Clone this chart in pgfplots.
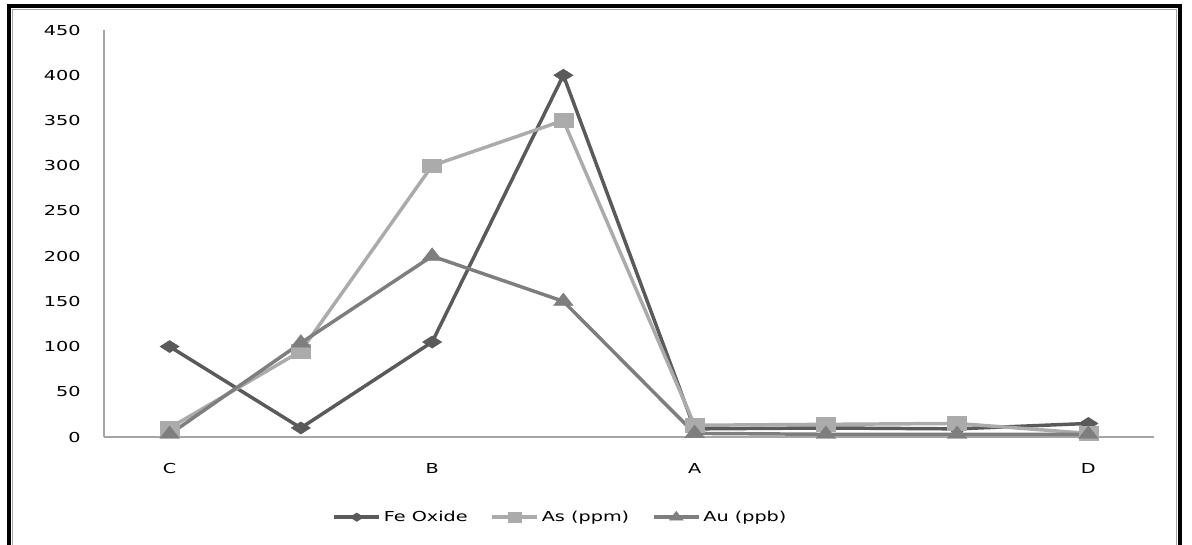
\documentclass[border=0pt]{standalone}
\usepackage{pgfplots}
\pgfplotsset{compat=1.18}
\usepackage{fontspec}
\setmainfont[FakeStretch=1.4]{DejaVu Sans}
\definecolor{feC}{HTML}{5A5A5A}
\definecolor{asC}{HTML}{ABABAB}
\definecolor{auC}{HTML}{7E7E7E}
\begin{document}
\begin{tikzpicture}
\useasboundingbox (0pt,0pt) rectangle (894pt,-408pt);
\begin{scope}
\clip (0pt,0pt) rectangle (894pt,-408pt);
\draw[black,line width=2.4pt] (6.75pt,-4.5pt) rectangle (885pt,-420pt);
\draw[gray!70,line width=1pt] (9.4pt,-7.1pt) rectangle (882.4pt,-420pt);
\end{scope}
\begin{axis}[
  at={(78pt,-327.75pt)}, anchor=south west,
  scale only axis, width=787.5pt, height=305.25pt,
  xmin=-0.5, xmax=7.5, ymin=0, ymax=450,
  axis lines*=left,
  axis line style={gray!70, line width=0.8pt, -},
  xtick={0,...,7}, xticklabels={C,,B,,A,,,D},
  ytick={0,50,...,450},
  major tick length=0pt,
  xticklabel style={yshift=-16pt},
  yticklabel style={xshift=-14pt},
  /pgf/number format/assume math mode=true,
  tick label style={font=\fontsize{10.3}{12}\selectfont},
  legend style={at={(0.435,-0.197)}, anchor=center, draw=none, legend columns=3,
    font=\fontsize{10.3}{12}\selectfont, /tikz/every even column/.append style={column sep=15pt}},
  legend image code/.code={\draw[#1] (0pt,0pt) -- (34pt,0pt); \draw[#1,mark repeat=2,mark phase=2,every mark/.append style={scale=0.7}] plot coordinates {(0pt,0pt)(17pt,0pt)(34pt,0pt)};},
  clip=false,
]
\addplot[feC, line width=2.6pt, mark=diamond*, mark size=4.6pt, mark options={solid,line width=0.3pt,xscale=2.1}] coordinates {
(0,100) (1,10) (2,105) (3,400) (4,9) (5,10) (6,9) (7,15)};
\addlegendentry{Fe Oxide}
\addplot[asC, line width=2.6pt, mark=square*, mark size=5.1pt, mark options={solid,line width=0.3pt,xscale=1.4}] coordinates {
(0,10) (1,95) (2,300) (3,350) (4,13) (5,14) (6,15) (7,4)};
\addlegendentry{As (ppm)}
\addplot[auC, line width=2.6pt, mark=triangle*, mark size=6.3pt, mark options={solid,line width=0.3pt,xscale=1.35}] coordinates {
(0,3) (1,104) (2,200) (3,150) (4,4) (5,3) (6,3) (7,3)};
\addlegendentry{Au (ppb)}
\end{axis}
\end{tikzpicture}
\end{document}
